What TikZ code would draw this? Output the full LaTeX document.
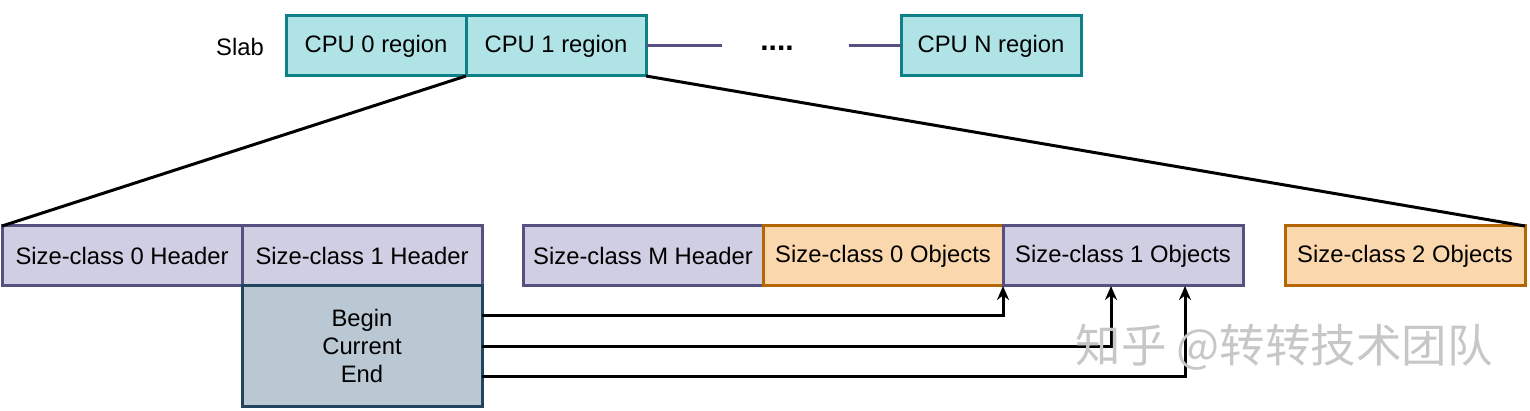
\documentclass[tikz,border=0pt]{standalone}
\usepackage{fontspec}
\setmainfont{Liberation Sans}
\newfontfamily\cjk{Noto Sans CJK SC}
\usetikzlibrary{arrows.meta}
\definecolor{tealfill}{HTML}{B0E3E6}
\definecolor{tealline}{HTML}{0E8088}
\definecolor{lavfill}{HTML}{D0CEE2}
\definecolor{lavline}{HTML}{56517E}
\definecolor{orfill}{HTML}{FAD7AC}
\definecolor{orline}{HTML}{B46504}
\definecolor{bgfill}{HTML}{BAC8D3}
\definecolor{bgline}{HTML}{23445D}
\tikzset{
  x=1pt, y=-1pt,
  txt/.style={font=\fontsize{23.8}{28}\selectfont},
  box/.style={draw, line width=3pt, outer sep=0pt, minimum width=180pt, minimum height=60pt, inner sep=0pt, txt, anchor=north west},
  cpu/.style={box, fill=tealfill, draw=tealline},
  hdr/.style={box, fill=lavfill, draw=lavline, minimum width=240pt},
  obj/.style={box, fill=orfill, draw=orline, minimum width=240pt},
  ptr/.style={line width=3pt, -{Stealth[length=14pt,width=12pt]}},
  link/.style={line width=3pt},
}
\begin{document}
\begin{tikzpicture}
\useasboundingbox (0,0) rectangle (1530,411);
% top row
\node[txt] (slab) at (240,47) {Slab};
\node[cpu] (c0) at (286,16) {CPU 0 region};
\node[cpu] (c1) at (466,16) {CPU 1 region};
\node[cpu] (cn) at (901,16) {CPU N region};
\node[font=\fontsize{30}{32}\selectfont\bfseries] (dots) at (777,48) {....};
\coordinate (l1) at (722,0 |- c1.east);
\coordinate (l2) at (849,0 |- cn.west);
\draw[line width=3pt, draw=lavline] (c1.east) -- (l1);
\draw[line width=3pt, draw=lavline] (l2) -- (cn.west);
% bottom row
\node[hdr] (h0) at (2,226) {Size-class 0 Header};
\node[hdr] (h1) at (242,226) {Size-class 1 Header};
\node[hdr] (hm) at (523,226) {Size-class M Header};
\node[obj] (o0) at (763,226) {Size-class 0 Objects};
\node[hdr] (o1) at (1003,226) {Size-class 1 Objects};
\node[obj] (o2) at (1285,226) {Size-class 2 Objects};
\node[box, fill=bgfill, draw=bgline, minimum width=240pt, minimum height=120pt, align=center, font=\fontsize{23.8}{28}\selectfont] (bce) at (242,286) {Begin\\Current\\End};
% zoom lines
\draw[link] (c1.south west) -- (h0.north west);
\draw[link] (c1.south east) -- (o2.north east);
% pointers
\coordinate (pb) at (1003,316);
\coordinate (pc) at (1111,346);
\coordinate (pe) at (1185,376);
\draw[ptr] (bce.east |- pb) -- (pb) -- (o1.south west);
\draw[ptr] (bce.east |- pc) -- (pc) -- (pc |- o1.south);
\draw[ptr] (bce.east |- pe) -- (pe) -- (pe |- o1.south);
% watermark
\node[font=\cjk\fontsize{45.5}{48}\selectfont, text=black!22, anchor=west] (wm) at (1072,347) {知乎 @转转技术团队};
\end{tikzpicture}
\end{document}
